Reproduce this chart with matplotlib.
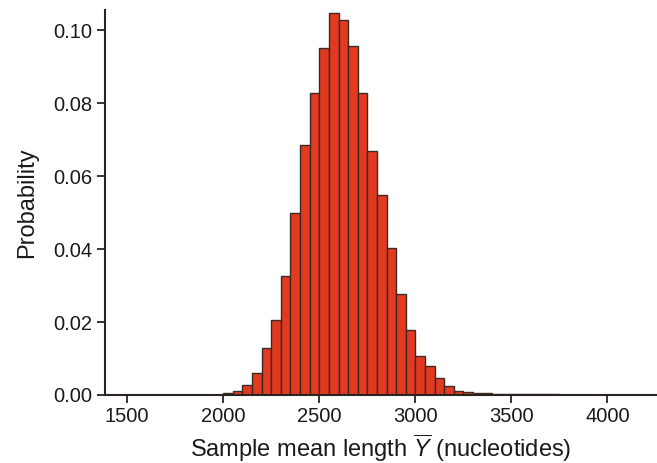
import matplotlib
matplotlib.use("Agg")
import matplotlib.pyplot as plt

plt.rcParams['font.family'] = ['Liberation Sans', 'DejaVu Sans']
plt.rcParams['mathtext.fontset'] = 'custom'
plt.rcParams['mathtext.rm'] = 'Liberation Sans'
plt.rcParams['mathtext.it'] = 'Liberation Sans:italic'

bin_starts = [2000, 2050, 2100, 2150, 2200, 2250, 2300, 2350, 2400, 2450,
              2500, 2550, 2600, 2650, 2700, 2750, 2800, 2850, 2900, 2950,
              3000, 3050, 3100, 3150, 3200, 3250, 3300, 3350, 3400, 3450,
              3500, 3550, 3600, 3650, 3700, 3750, 3800, 3850]
probabilities = [0.0004, 0.0010, 0.0027, 0.0059, 0.0128, 0.0205, 0.0325, 0.0500, 0.0684, 0.0829,
                 0.0950, 0.1046, 0.1029, 0.0957, 0.0828, 0.0669, 0.0549, 0.0402, 0.0276, 0.0179,
                 0.0107, 0.0078, 0.0047, 0.0024, 0.0012, 0.0009, 0.0006, 0.0004, 0.0003, 0.0003,
                 0.0003, 0.0003, 0.0003, 0.0002, 0.0002, 0.0001, 0.0001, 0.0001]
bin_width = 50
x_ticks = [1500, 2000, 2500, 3000, 3500, 4000]
y_ticks = [0.00, 0.02, 0.04, 0.06, 0.08, 0.10]

fig = plt.figure(figsize=(6.57, 4.63), dpi=100)
ax = fig.add_axes([0.160, 0.147, 0.840, 0.831])

ax.bar(bin_starts, probabilities, width=bin_width, align='edge',
       color='#E2391F', edgecolor='#3b2b27', linewidth=1.0)

ax.set_xlim(1385, 4258)
ax.set_ylim(0, 0.1055)
ax.set_xticks(x_ticks)
ax.set_yticks(y_ticks)
ax.set_yticklabels([f"{v:.2f}" for v in y_ticks])

for s in ['top', 'right']:
    ax.spines[s].set_visible(False)
for s in ['left', 'bottom']:
    ax.spines[s].set_color('#2b2320')
    ax.spines[s].set_linewidth(1.5)

ax.tick_params(axis='both', direction='out', length=6, width=1.3,
               color='#2b2320', labelsize=14.5, labelcolor='#1a1a1a', pad=3)

ax.set_ylabel('Probability', fontsize=17, color='#1a1a1a', labelpad=11)
ax.set_xlabel(r'Sample mean length $\overline{Y}$ (nucleotides)', fontsize=17,
              color='#1a1a1a', labelpad=4)

fig.savefig('out.png', dpi=100)
